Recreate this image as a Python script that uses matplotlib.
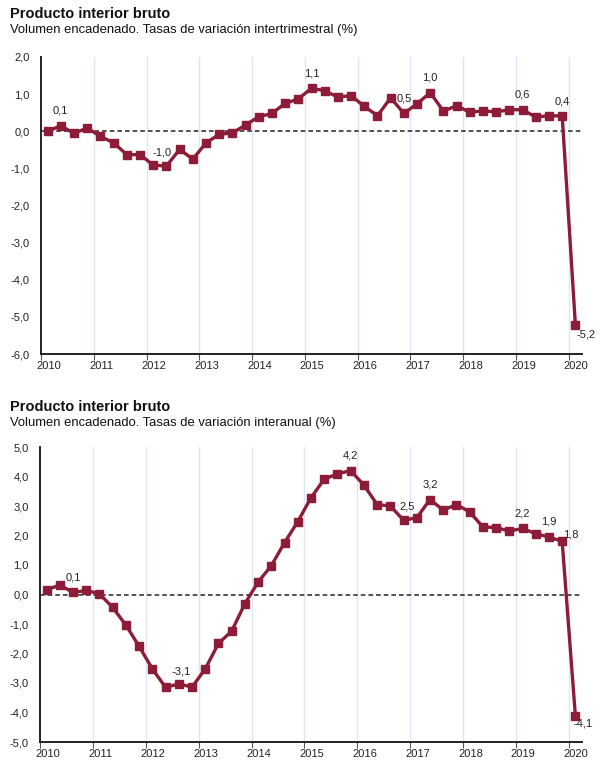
import numpy as np
import matplotlib
matplotlib.use("Agg")
import matplotlib.pyplot as plt
import matplotlib.ticker as ticker

plt.rcParams["font.family"] = ["Liberation Sans", "DejaVu Sans"]

# --- Data: PIB, 2010T1 .. 2020T1 ---
YEARS = list(range(2010, 2021))
QUARTERS = [f"{y}T{q}" for y in range(2010, 2021) for q in range(1, 5)][:41]

intertrimestral = [
    0.00, 0.15, -0.06, 0.09, -0.14, -0.31, -0.63, -0.63, -0.91, -0.94,
    -0.49, -0.75, -0.32, -0.08, -0.05, 0.17, 0.39, 0.48, 0.75, 0.87,
    1.16, 1.09, 0.92, 0.96, 0.67, 0.42, 0.90, 0.48, 0.74, 1.04,
    0.54, 0.69, 0.51, 0.55, 0.52, 0.58, 0.58, 0.38, 0.42, 0.41,
    -5.22,
]

interanual = [
    0.16, 0.32, 0.07, 0.14, 0.02, -0.44, -1.04, -1.76, -2.52, -3.15,
    -3.03, -3.14, -2.52, -1.66, -1.24, -0.31, 0.42, 0.98, 1.76, 2.47,
    3.28, 3.91, 4.09, 4.20, 3.71, 3.05, 3.00, 2.52, 2.60, 3.22,
    2.86, 3.05, 2.80, 2.29, 2.27, 2.15, 2.24, 2.06, 1.95, 1.80,
    -4.12,
]

# labelled points: (index, text)
labels_top = [(1, "0,1"), (9, "-1,0"), (20, "1,1"), (27, "0,5"), (29, "1,0"),
              (36, "0,6"), (39, "0,4"), (40, "-5,2")]
labels_bot = [(2, "0,1"), (10, "-3,1"), (23, "4,2"), (27, "2,5"), (29, "3,2"),
              (36, "2,2"), (38, "1,9"), (39, "1,8"), (40, "-4,1")]

# label offsets in pixels (dx, dy), default is above the point
offsets_top = {9: (-4, 14), 40: (11, -9)}
offsets_bot = {10: (2, 12), 27: (4, 14), 39: (9, 7), 40: (8, -7)}

LINE_COLOR = "#8c1c38"
GRID_COLOR = "#dbe6f6"

xq = np.array([2010 + i // 4 + (i % 4 + 0.5) / 4 for i in range(len(QUARTERS))])


def fmt(v, pos=None):
    return f"{v:.1f}".replace(".", ",")


def draw(ax, values, labels, offsets, ylim):
    for y in YEARS[1:]:
        ax.axvline(y, color=GRID_COLOR, lw=1, zorder=0)
    ax.axhline(0, color="#222222", lw=1.1, ls=(0, (3, 2)), zorder=1)
    ax.plot(xq, values, color=LINE_COLOR, lw=2.4, marker="s", ms=5.5,
            zorder=3, clip_on=False)
    for idx, txt in labels:
        dx, dy = offsets.get(idx, (0, 15))
        ax.annotate(txt, (xq[idx], values[idx]), xytext=(dx, dy),
                    textcoords="offset pixels", ha="center", va="center",
                    fontsize=8, color="#222222")
    ax.set_xlim(2010, 2020.25)
    ax.set_ylim(*ylim)
    ax.yaxis.set_major_locator(ticker.MultipleLocator(1))
    ax.yaxis.set_major_formatter(ticker.FuncFormatter(fmt))
    ax.xaxis.set_major_locator(ticker.FixedLocator(YEARS))
    ax.xaxis.set_major_formatter(ticker.NullFormatter())
    ax.xaxis.set_minor_locator(ticker.FixedLocator([y + 0.14 for y in YEARS]))
    ax.xaxis.set_minor_formatter(ticker.FixedFormatter([str(y) for y in YEARS]))
    ax.tick_params(axis="x", which="major", length=4, width=0.8, color="#555555")
    ax.tick_params(axis="x", which="minor", length=0, pad=5, labelsize=8,
                   labelcolor="#222222")
    ax.tick_params(axis="y", length=0, pad=8, labelsize=8, labelcolor="#222222")
    for s in ("top", "right"):
        ax.spines[s].set_visible(False)
    for s in ("left", "bottom"):
        ax.spines[s].set_linewidth(1.4)
        ax.spines[s].set_color("#222222")


W, H = 605, 763
fig = plt.figure(figsize=(W / 100, H / 100), dpi=100)

ax1 = fig.add_axes([41 / W, 1 - 354 / H, (582 - 41) / W, (354 - 57) / H])
draw(ax1, intertrimestral, labels_top, offsets_top, (-6, 2))

ax2 = fig.add_axes([40 / W, 1 - 742 / H, (582 - 40) / W, (742 - 447) / H])
draw(ax2, interanual, labels_bot, offsets_bot, (-5, 5))

fig.text(10 / W, 1 - 14 / H, "Producto interior bruto", fontsize=10.5,
         fontweight="bold", va="center", color="#111111")
fig.text(10 / W, 1 - 30 / H,
         "Volumen encadenado. Tasas de variación intertrimestral (%)",
         fontsize=9.4, va="center", color="#111111")
fig.text(10 / W, 1 - 407 / H, "Producto interior bruto", fontsize=10.5,
         fontweight="bold", va="center", color="#111111")
fig.text(10 / W, 1 - 423 / H,
         "Volumen encadenado. Tasas de variación interanual (%)",
         fontsize=9.4, va="center", color="#111111")

fig.savefig("out.png", dpi=100)
